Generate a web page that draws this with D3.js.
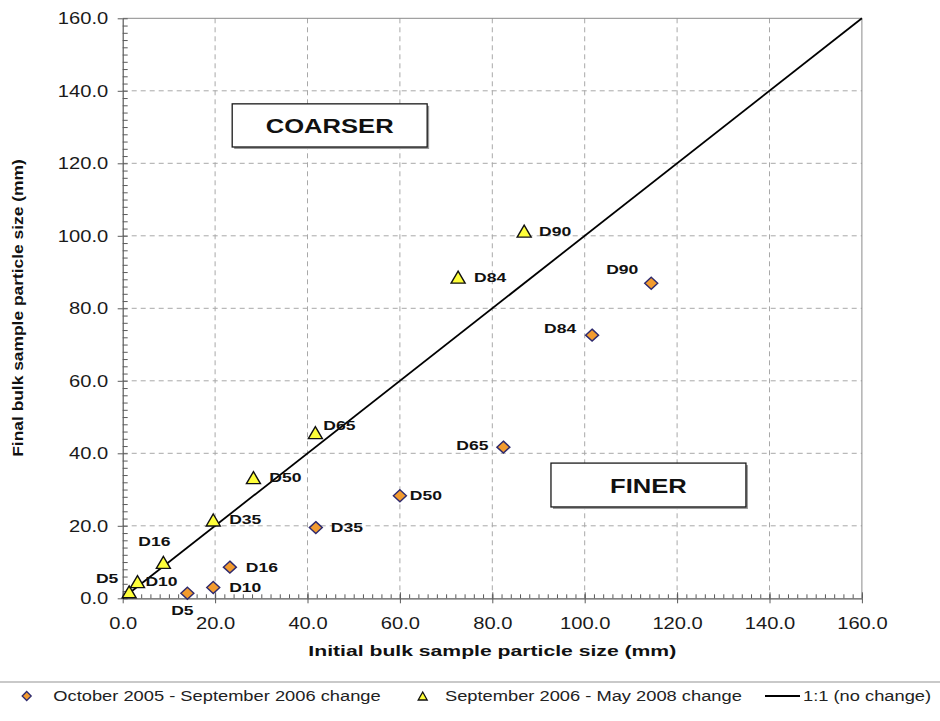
<!DOCTYPE html>
<html>
<head>
<meta charset="utf-8">
<script src="https://cdn.jsdelivr.net/npm/d3@7"></script>
<style>
  html, body { margin: 0; padding: 0; background: #fff; }
  svg { display: block; font-family: "Liberation Sans", Arial, sans-serif; }
</style>
</head>
<body>
<svg id="chart" width="940" height="721"></svg>
<script>
// Percentile labels shared by both sampling periods
const percentiles = ["D5", "D10", "D16", "D35", "D50", "D65", "D84", "D90"];

// October 2005 - September 2006 change (mm)
const period1Initial = [14.0, 19.6, 23.2, 41.8, 60.0, 82.4, 101.6, 114.4];
const period1Final   = [1.4, 3.0, 8.6, 19.5, 28.3, 41.7, 72.6, 86.9];

// September 2006 - May 2008 change (mm)
const period2Initial = [1.4, 3.2, 8.8, 19.6, 28.3, 41.7, 72.6, 86.9];
const period2Final   = [1.8, 4.6, 9.9, 21.6, 33.3, 45.7, 88.6, 101.3];

// 1:1 reference line end points
const oneToOne = [[0, 0], [160, 160]];

// Axis ticks
const majorTicks = [0, 20, 40, 60, 80, 100, 120, 140, 160];
const minorTicks = d3.range(0, 161, 2);

const legendLabels = [
  "October 2005 - September 2006 change",
  "September 2006 - May 2008 change",
  "1:1 (no change)"
];
const regionLabels = ["COARSER", "FINER"];

// ---------------------------------------------------------------
const svg = d3.select("#chart");
const W = 940, H = 721;
const plot = { left: 122.7, right: 861.9, top: 18.3, bottom: 598.3 };
const SX = 1.26; // horizontal glyph stretch used throughout the figure
const FONT = '"Liberation Sans", Arial, sans-serif';

const x = d3.scaleLinear().domain([0, 160]).range([plot.left, plot.right]);
const y = d3.scaleLinear().domain([0, 160]).range([plot.bottom, plot.top]);

// text with horizontal stretch about its anchor point
function stretchedText(parent, px, py, str, o) {
  const t = parent.append("text")
    .attr("transform", `translate(${px},${py}) scale(${o.sx || SX},1)`)
    .attr("text-anchor", o.anchor || "start")
    .attr("dominant-baseline", o.baseline || "central")
    .attr("font-size", o.size)
    .attr("font-weight", o.weight || "normal")
    .attr("fill", o.fill || "#111")
    .text(str);
  return t;
}

// gridlines
const grid = svg.append("g");
grid.selectAll("line.v").data(majorTicks.filter(d => d > 0 && d < 160))
  .join("line")
  .attr("x1", d => x(d)).attr("x2", d => x(d))
  .attr("y1", plot.top).attr("y2", plot.bottom)
  .attr("stroke", "#a8a8a8").attr("stroke-width", 1).attr("stroke-dasharray", "5,4");
grid.selectAll("line.h").data(majorTicks.filter(d => d > 0 && d < 160))
  .join("line")
  .attr("y1", d => y(d)).attr("y2", d => y(d))
  .attr("x1", plot.left).attr("x2", plot.right)
  .attr("stroke", "#a8a8a8").attr("stroke-width", 1).attr("stroke-dasharray", "5,4");

// plot frame (top and right)
svg.append("path")
  .attr("d", `M${plot.left},${plot.top}H${plot.right}V${plot.bottom}`)
  .attr("fill", "none").attr("stroke", "#8a8a8a").attr("stroke-width", 1);

// axes
const axisColor = "#5a5a5a";
function styleAxis(g) {
  g.select(".domain").attr("stroke", axisColor).attr("stroke-width", 1.2);
  g.selectAll(".tick line").attr("stroke", axisColor);
}

// minor ticks pointing into the plot
svg.append("g").attr("transform", `translate(${plot.left},0)`)
  .call(d3.axisRight(y).tickValues(minorTicks).tickSize(5).tickFormat(""))
  .call(styleAxis).call(g => g.select(".domain").remove());
svg.append("g").attr("transform", `translate(0,${plot.bottom})`)
  .call(d3.axisTop(x).tickValues(minorTicks).tickSize(4).tickFormat(""))
  .call(styleAxis).call(g => g.select(".domain").remove());
svg.append("g").attr("transform", `translate(0,${plot.bottom})`)
  .call(d3.axisTop(x).tickValues(majorTicks).tickSize(6).tickFormat(""))
  .call(styleAxis).call(g => g.select(".domain").remove());

// major axes with labels
const yAxis = svg.append("g").attr("transform", `translate(${plot.left},0)`)
  .call(d3.axisLeft(y).tickValues(majorTicks).tickSize(5).tickSizeOuter(0).tickFormat(d3.format(".1f")))
  .call(styleAxis);
yAxis.selectAll(".tick text")
  .attr("x", null).attr("dy", null)
  .attr("transform", `translate(-14.5,0) scale(${SX},1)`)
  .attr("text-anchor", "end").attr("dominant-baseline", "central")
  .attr("font-size", 16).attr("font-family", FONT).attr("fill", "#1a1a1a");

const xAxis = svg.append("g").attr("transform", `translate(0,${plot.bottom})`)
  .call(d3.axisBottom(x).tickValues(majorTicks).tickSize(5).tickSizeOuter(0).tickFormat(d3.format(".1f")))
  .call(styleAxis);
xAxis.selectAll(".tick text")
  .attr("y", null).attr("dy", null)
  .attr("transform", `translate(0,25.5) scale(${SX},1)`)
  .attr("text-anchor", "middle").attr("dominant-baseline", "central")
  .attr("font-size", 16).attr("font-family", FONT).attr("fill", "#1a1a1a");

// axis titles
stretchedText(svg, x(80), 651, "Initial bulk sample particle size (mm)",
  { size: 14.5, weight: "bold", anchor: "middle", sx: 1.46 });
svg.append("text")
  .attr("transform", `translate(18,308) rotate(-90) scale(1.2,1)`)
  .attr("text-anchor", "middle").attr("dominant-baseline", "central")
  .attr("font-size", 14.5).attr("font-weight", "bold").attr("fill", "#111")
  .text("Final bulk sample particle size (mm)");

// region annotation boxes
const regionBoxes = [
  { label: regionLabels[0], x0: 23.7, x1: 65.9, y0: 136.4, y1: 124.5 },
  { label: regionLabels[1], x0: 92.7, x1: 134.9, y0: 37.3, y1: 25.2 }
];
regionBoxes.forEach(b => {
  const bx = x(b.x0), by = y(b.y0), bw = x(b.x1) - x(b.x0), bh = y(b.y1) - y(b.y0);
  svg.append("rect").attr("x", bx + 2).attr("y", by + 2).attr("width", bw).attr("height", bh)
    .attr("fill", "#9a9a9a");
  svg.append("rect").attr("x", bx).attr("y", by).attr("width", bw).attr("height", bh)
    .attr("fill", "#fff").attr("stroke", "#1a1a1a").attr("stroke-width", 1.3);
  stretchedText(svg, bx + bw / 2, by + bh / 2 + 1, b.label,
    { size: 20, weight: "bold", anchor: "middle", sx: 1.28 });
});

// 1:1 line
svg.append("path")
  .attr("d", d3.line().x(d => x(d[0])).y(d => y(d[1]))(oneToOne))
  .attr("fill", "none").attr("stroke", "#000").attr("stroke-width", 1.8);

// marker shapes
function diamondPath(w, h) {
  return `M0,${-h / 2}L${w / 2},0L0,${h / 2}L${-w / 2},0Z`;
}
function trianglePath(w, h) {
  return `M0,${-h / 2}L${w / 2},${h / 2}L${-w / 2},${h / 2}Z`;
}
const diamondFill = "#f29b2f", diamondStroke = "#2e2a6e";
const triFill = "#ffff3a", triStroke = "#111";

const p1 = percentiles.map((p, i) => ({ label: p, xv: period1Initial[i], yv: period1Final[i] }));
const p2 = percentiles.map((p, i) => ({ label: p, xv: period2Initial[i], yv: period2Final[i] }));

// label placement around each marker (pixel offsets of the label centre)
const p1LabelOffset = {
  D5: [-5, 17], D10: [32, 0], D16: [32, 0], D35: [31, 0],
  D50: [26, 0], D65: [-31, -2], D84: [-32, -7], D90: [-29, -14]
};
const p2LabelOffset = {
  D5: [-22, -14], D10: [24, 0], D16: [-9, -21], D35: [32, -1],
  D50: [32, 0], D65: [24, -7], D84: [32, 0], D90: [31, 0]
};

svg.append("g").selectAll("path").data(p1).join("path")
  .attr("transform", d => `translate(${x(d.xv)},${y(d.yv)})`)
  .attr("d", diamondPath(13, 12))
  .attr("fill", diamondFill).attr("stroke", diamondStroke).attr("stroke-width", 1.4);
svg.append("g").selectAll("path").data(p2).join("path")
  .attr("transform", d => `translate(${x(d.xv)},${y(d.yv)})`)
  .attr("d", trianglePath(14, 12))
  .attr("fill", triFill).attr("stroke", triStroke).attr("stroke-width", 1.4)
  .attr("stroke-linejoin", "miter");

const labelG = svg.append("g");
p1.forEach(d => {
  const o = p1LabelOffset[d.label];
  stretchedText(labelG, x(d.xv) + o[0], y(d.yv) + o[1], d.label,
    { size: 13.5, weight: "bold", anchor: "middle", sx: 1.3 });
});
p2.forEach(d => {
  const o = p2LabelOffset[d.label];
  stretchedText(labelG, x(d.xv) + o[0], y(d.yv) + o[1], d.label,
    { size: 13.5, weight: "bold", anchor: "middle", sx: 1.3 });
});

// legend
const legendY = 696;
svg.append("line").attr("x1", 0).attr("x2", W).attr("y1", 682).attr("y2", 682)
  .attr("stroke", "#c9c9c9").attr("stroke-width", 2);
const lg = svg.append("g");
lg.append("path").attr("transform", `translate(26.7,${legendY})`)
  .attr("d", diamondPath(9, 9))
  .attr("fill", diamondFill).attr("stroke", diamondStroke).attr("stroke-width", 1.3);
stretchedText(lg, 53.3, legendY, legendLabels[0], { size: 15, sx: 1.22, fill: "#222" });
lg.append("path").attr("transform", `translate(422.7,${legendY})`)
  .attr("d", trianglePath(9, 8))
  .attr("fill", triFill).attr("stroke", triStroke).attr("stroke-width", 1.3);
stretchedText(lg, 445, legendY, legendLabels[1], { size: 15, sx: 1.22, fill: "#222" });
lg.append("line").attr("x1", 765).attr("x2", 800).attr("y1", legendY).attr("y2", legendY)
  .attr("stroke", "#000").attr("stroke-width", 2);
stretchedText(lg, 803, legendY, legendLabels[2], { size: 15, sx: 1.22, fill: "#222" });
</script>
</body>
</html>
